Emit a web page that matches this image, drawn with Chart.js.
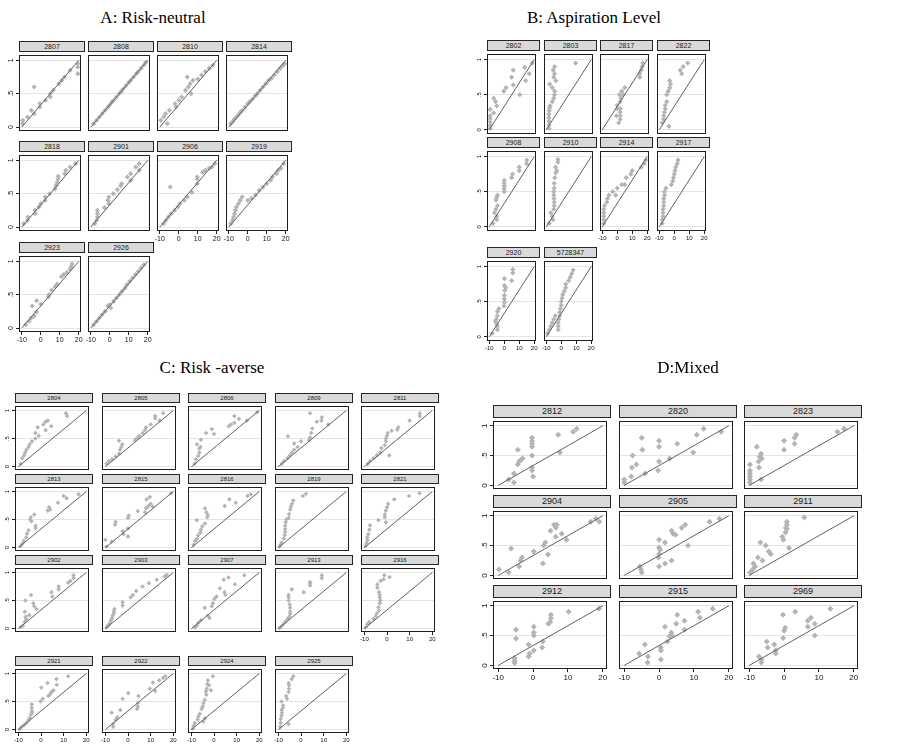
<!DOCTYPE html>
<html>
<head>
<meta charset="utf-8">
<script src="https://cdn.jsdelivr.net/npm/chart.js@4.4.1/dist/chart.umd.min.js"></script>
<style>
  body { margin: 0; background: #fff; }
  #page { position: relative; width: 907px; height: 747px; overflow: hidden; background: #fff; }
  .title { position: absolute; font-family: "Liberation Serif", "Times New Roman", serif; font-size: 17px; line-height: 17px; white-space: nowrap; transform: translateX(-50%); color: #000; }
  .strip { position: absolute; box-sizing: border-box; background: #d9d9d9; border: 1px solid #262626; text-align: center; color: #1a1a1a; font-family: "Liberation Sans", Arial, sans-serif; }
  canvas { position: absolute; }
</style>
</head>
<body>
<div id="page"></div>
<script>
// axis ticks shared by every panel
const xTicks = [-10, 0, 10, 20];
const yTicks = [0, 0.5, 1];
const yLabels = ['0', '.5', '1'];
// 45-degree reference line end points
const diagX = [-10, 20];
const diagY = [0, 1];

// panel ids per group
const idsA = ['2807', '2808', '2810', '2814', '2818', '2901', '2906', '2919', '2923', '2926'];
const idsB = ['2802', '2803', '2817', '2822', '2908', '2910', '2914', '2917', '2920', '5728347'];
const idsC = ['2804', '2805', '2806', '2809', '2811', '2813', '2815', '2816', '2819', '2821',
              '2902', '2903', '2907', '2913', '2916', '2921', '2922', '2924', '2925'];
const idsD = ['2812', '2820', '2823', '2904', '2905', '2911', '2912', '2915', '2969'];

// A: Risk-neutral
const p2807 = [[-9.5,.1],[-9.5,.05],[-7,.15],[-5,.25],[-3.5,.6],[-3.5,.2],[-0.5,.3],[-0.5,.35],[2.5,.4],[5,.45],[5,.5],[6.5,.55],[9.5,.65],[11,.7],[12.5,.75],[15.5,.85],[19.5,.95],[19.5,.9],[19.5,.8]];
const p2808 = [[-8.5,.05],[-7,.1],[-5.5,.15],[-4,.2],[-2.5,.25],[-1,.3],[0,.33],[1,.37],[2,.4],[3.5,.45],[5,.5],[6,.53],[7,.57],[8.5,.62],[10,.67],[11,.7],[12.5,.75],[14,.8],[15,.83],[16.5,.88],[18,.93],[19,.97]];
const p2810 = [[-9.5,.1],[-8,.15],[-6,.05],[-7,.2],[-5,.25],[-2,.35],[-1.5,.3],[0,.4],[1.5,.45],[4.5,.75],[3.5,.55],[5,.6],[6.5,.5],[6,.65],[7.5,.7],[10,.72],[12,.78],[14,.83],[16,.88],[18,.93]];
const p2814 = [[-9,.05],[-8,.08],[-7,.12],[-6,.15],[-5,.18],[-4,.22],[-3,.25],[-1.5,.3],[0,.35],[1,.38],[2.5,.42],[4,.47],[5,.5],[6.5,.55],[8,.6],[9.5,.65],[11,.7],[12.5,.73],[14,.78],[15.5,.83],[17,.88],[18.5,.92],[19.5,.95]];
const p2818 = [[-9,.05],[-7,.1],[-6.8,.15],[-3,.2],[-3,.25],[-1,.3],[0,.35],[2.3,.4],[2.3,.45],[4.6,.5],[7.5,.57],[8,.62],[8.6,.67],[9.2,.72],[9.2,.76],[12.6,.8],[13.2,.85],[15.4,.9],[18.3,.95]];
const p2901 = [[-8,.05],[-7,.1],[-6.5,.15],[-6.5,.2],[-6.5,.25],[-2.8,.29],[-0.5,.35],[-1,.4],[-0.5,.45],[1.8,.5],[4,.56],[5.7,.62],[6.3,.65],[9.2,.75],[11,.8],[11,.7],[13.7,.9],[15.5,.95],[15.5,.85]];
const p2906 = [[-8,.05],[-6.8,.1],[-5.5,.15],[-4.5,.6],[-4,.2],[-2.2,.25],[-0.5,.3],[0.6,.35],[2.9,.4],[4.5,.45],[6.9,.52],[9.7,.65],[9.7,.72],[9.7,.75],[12.6,.82],[14,.85],[16,.88],[17.5,.9],[19,.95]];
const p2919 = [[-9,.05],[-8,.1],[-7.5,.15],[-7,.2],[-6.5,.25],[-6,.3],[-5,.35],[-4,.4],[-3,.45],[0,.4],[2,.43],[4,.48],[6,.55],[8,.6],[10,.65],[12,.7],[13,.75],[15,.8],[16,.85],[17.5,.88],[19,.95]];
const p2923 = [[-8,.05],[-6.2,.1],[-5,.15],[-4.5,.33],[-3.4,.18],[-2.2,.41],[-2.2,.24],[0,.36],[4,.47],[4.3,.5],[5.7,.57],[7.5,.62],[8.6,.66],[10.9,.77],[12,.8],[13.7,.83],[15.4,.88],[16,.92],[16.5,.96]];
const p2926 = [[-8.5,.05],[-7,.1],[-5.5,.15],[-4,.2],[-2.5,.25],[-1,.33],[0,.35],[0.5,.3],[2,.4],[3.5,.45],[5,.5],[6.5,.55],[8,.6],[9,.65],[10.5,.7],[12,.75],[13.5,.8],[15,.85],[16.5,.9],[18,.95]];

// B: Aspiration Level
const p2802 = [[-9.4,.29],[-9.4,.2],[-9.4,.16],[-9.4,.11],[-9.4,.06],[-9.4,.02],[-7,.24],[-7,.45],[-5.8,.4],[-5,.34],[-0.3,.55],[1.2,.6],[4.9,.75],[6,.85],[6,.64],[10.4,.5],[13.7,.89],[14.3,.7],[16.7,.8],[18.7,.95]];
const p2803 = [[-8.2,.02],[-8.2,.07],[-8.2,.12],[-8.2,.17],[-8.2,.22],[-8,.27],[-7.8,.31],[-7.5,.34],[-6,.4],[-5,.45],[-4.5,.5],[-4.4,.55],[-7.7,.65],[-6,.6],[-3.6,.7],[-5,.75],[-4.5,.8],[-5.3,.85],[-4.4,.9],[9.6,.95]];
const p2817 = [[-0.5,.2],[0,.3],[0,.35],[1,.1],[2,.15],[2,.2],[2,.25],[2,.3],[2,.4],[2.5,.45],[1.5,.5],[3,.55],[4,.5],[5,.6],[15,.8],[15,.75],[16,.85],[16.5,.9],[17,.95]];
const p2822 = [[-8,.1],[-7,.15],[-7,.2],[-6.5,.25],[-6,.3],[-6,.35],[-5,.4],[-3.5,.05],[-5,.5],[-4,.55],[-3,.6],[-2.5,.65],[-3,.7],[4,.85],[6,.9],[5,.8],[9,.95]];
const p2908 = [[-7.5,.05],[-6.5,.2],[-5.5,.25],[-5.5,.38],[-5,.42],[-4.5,.45],[-4.5,.3],[-5,.15],[-5,.1],[0,.5],[0,.54],[0,.58],[0,.62],[0,.66],[5,.7],[5.5,.75],[10,.8],[10,.85],[15,.9],[15,.95]];
const p2910 = [[-8,.05],[-7,.2],[-6,.15],[-5.5,.1],[-5,.25],[-4.7,.3],[-4.7,.35],[-4.8,.4],[-5,.45],[-5,.5],[-4.7,.55],[-4.7,.62],[-4.3,.7],[-3.6,.77],[-3,.8],[-3.8,.85],[-2.2,.92],[-2.2,.96]];
const p2914 = [[-9,.05],[-9,.1],[-9,.15],[-9,.2],[-9,.25],[-8.5,.3],[-7,.35],[-6.5,.4],[-5.5,.45],[-3,.5],[-1,.45],[0,.55],[3,.6],[5,.6],[6,.7],[9,.75],[10,.8],[16,.85],[18,.9],[19,.95]];
const p2917 = [[-8,.05],[-8,.1],[-7.5,.15],[-7.5,.2],[-7.5,.25],[-7,.3],[-7,.35],[-7,.4],[-6.5,.45],[-6.5,.5],[-5.5,.55],[-2,.6],[-1,.65],[-0.5,.7],[0,.75],[0.5,.8],[1,.85],[2,.9],[2.5,.95]];
const p2920 = [[-8,.05],[-5.3,.25],[-5.8,.22],[-4.7,.3],[-4.5,.36],[-3.6,.4],[-4.5,.15],[-4.5,.1],[-5,.18],[0.1,.49],[-0.2,.44],[0.1,.54],[0.1,.59],[0.4,.66],[0.1,.73],[0.1,.83],[1,.7],[4.9,.8],[5.7,.91],[5.7,.96]];
const p5728347 = [[-9,.05],[-8,.1],[-7,.15],[-6,.2],[-5,.25],[-4,.3],[-2,.1],[-2,.15],[-2,.2],[-1.5,.25],[-1,.3],[-1,.35],[-0.5,.4],[0,.45],[0,.5],[0.5,.55],[1,.6],[2,.65],[3,.7],[3,.75],[5,.8],[6,.85],[7,.9],[8,.95]];

// C: Risk-averse
const p2804 = [[-9,.05],[-8.3,.15],[-7.5,.2],[-7,.25],[-6.5,.3],[-5.5,.35],[-5,.4],[-4,.45],[-2.5,.5],[-1,.55],[-2.5,.6],[-1.5,.7],[1,.75],[2,.8],[3,.82],[2,.65],[4.5,.72],[11,.95],[11.5,.9]];
const p2805 = [[-9.5,.05],[-8.5,.1],[-7,.13],[-5.5,.18],[-4,.23],[-3.5,.3],[-3,.35],[-2.5,.4],[-4,.46],[3,.47],[4,.51],[5,.55],[6.5,.6],[7.5,.65],[8,.7],[10,.75],[12,.86],[12,.9],[14,.82],[15.5,.95]];
const p2806 = [[-8.5,.05],[-8,.13],[-7,.19],[-6.5,.25],[-6.5,.32],[-6,.35],[-7.5,.4],[-5.8,.48],[-3.5,.6],[0,.58],[-1,.67],[6.5,.72],[7.5,.75],[9,.78],[9,.9],[11,.85],[14.5,.82],[19,.97]];
const p2809 = [[-8.5,.05],[-7.5,.1],[-6,.15],[-5,.2],[-4,.25],[-3,.3],[-1.5,.35],[-3,.41],[-5.8,.54],[0,.45],[3.5,.47],[4,.52],[4.5,.6],[5,.68],[4,.95],[7,.8],[9,.82],[9.2,.88],[12,.75]];
const p2811 = [[-8.5,.05],[-7.5,.1],[-6,.15],[-4.5,.2],[-3,.25],[-2.5,.33],[-1,.38],[-0.5,.45],[-0.5,.5],[0,.55],[0.3,.6],[2,.64],[4.5,.66],[5,.7],[10,.82],[14.5,.9],[14.5,.95],[1,.2]];
const p2813 = [[-9,.03],[-8.3,.07],[-7.6,.12],[-6.6,.18],[-6.2,.25],[-5.5,.31],[-4.8,.5],[-4.5,.54],[-4.2,.47],[-3,.59],[-2.4,.39],[-2.4,.35],[3,.66],[3.6,.72],[4,.68],[7.5,.8],[10,.92],[11.3,.88],[16.6,.95]];
const p2815 = [[-9.5,.02],[-10,.14],[-7.2,.11],[-5.5,.46],[-5.7,.41],[-2.4,.29],[-2,.24],[0,.34],[0,.2],[0,.53],[0.3,.57],[4.3,.65],[7.5,.63],[8,.7],[8.2,.86],[9.6,.9],[9,.74],[10,.78],[11,.73],[19,.97]];
const p2816 = [[-9,.05],[-8.3,.12],[-7.5,.16],[-7,.22],[-6,.27],[-5.8,.32],[-5.2,.38],[-4,.43],[-7.6,.49],[-3,.54],[-2.8,.58],[-3.4,.63],[-4,.7],[4.7,.74],[6.8,.86],[9.6,.8],[14.8,.92],[16.2,.95]];
const p2819 = [[-9.5,.02],[-9,.05],[-8.6,.09],[-7.6,.16],[-7.2,.22],[-7,.28],[-7,.33],[-7,.39],[-6.8,.45],[-6.5,.5],[-5.5,.53],[-5.3,.6],[-4.8,.68],[-4.5,.73],[-4,.78],[-3.4,.84],[0.8,.92],[2.2,.96]];
const p2821 = [[-9.5,.03],[-9,.08],[-8.7,.13],[-8.7,.18],[-8.3,.24],[-7.8,.32],[-7.5,.4],[-3.8,.49],[-0.5,.45],[-1,.54],[-1,.59],[-0.5,.66],[0,.72],[0.5,.78],[3.2,.86],[9.7,.92],[14.4,.97]];
const p2902 = [[-9,.03],[-8,.05],[-7.2,.12],[-6.6,.17],[-6.8,.21],[-7.2,.3],[-6.9,.5],[-5.2,.24],[-4.4,.6],[-3.4,.45],[-3,.4],[-2,.35],[4.6,.65],[5,.57],[7.8,.75],[7.8,.7],[12,.82],[13,.85],[14.4,.95],[14.4,.9]];
const p2903 = [[-9.5,.02],[-9,.05],[-8.5,.07],[-8,.1],[-7.5,.15],[-7,.19],[-6.8,.23],[-6.3,.27],[-6.2,.31],[-6,.35],[-2.4,.41],[-2.4,.47],[1.2,.56],[2.2,.6],[3.6,.67],[6.4,.75],[9.2,.81],[12.7,.87],[16.2,.93],[17.2,.96]];
const p2907 = [[-8.5,.02],[-7.6,.05],[-7,.1],[-5.8,.15],[-4.1,.37],[-2.7,.23],[-2,.19],[-1,.4],[-0.5,.45],[0.1,.53],[1.1,.57],[2.6,.72],[4.6,.65],[5,.6],[4.3,.87],[6.4,.91],[9.2,.79],[13.4,.95]];
const p2913 = [[-9.5,.01],[-9,.03],[-8,.07],[-7,.12],[-6,.17],[-5.2,.21],[-4.8,.26],[-4.8,.3],[-4.8,.37],[-5,.43],[-5.5,.5],[-5.5,.56],[-5.5,.6],[-4.1,.7],[1.2,.65],[4,.83],[4,.77],[4,.8],[9.2,.95],[9.2,.9]];
const p2916 = [[-9.5,.02],[-8.7,.08],[-7.8,.12],[-6,.17],[-5,.22],[-4.5,.27],[-3.6,.32],[-3.8,.38],[-3.2,.45],[-3,.5],[-3.2,.55],[-3.2,.6],[-3.5,.65],[-4.2,.73],[-4.3,.79],[-2.8,.85],[-1.5,.88],[-1.2,.95],[1.1,.92]];
const p2921 = [[-9.4,.01],[-8.5,.05],[-7.5,.08],[-6.5,.12],[-5.5,.17],[-5,.21],[-4.4,.27],[-4,.3],[-4,.33],[-4.1,.39],[-4.1,.45],[-0.2,.5],[0.8,.55],[0.1,.75],[2.9,.83],[3.2,.6],[4,.63],[4.6,.67],[5.5,.7],[6.8,.9],[7,.8],[12,.95]];
const p2922 = [[-6.6,.05],[-6.6,.1],[-7.2,.3],[-5.5,.17],[-4.8,.22],[-3.4,.35],[-2.4,.55],[0.1,.65],[4,.37],[4.3,.41],[4.3,.47],[4.6,.6],[9.6,.73],[11,.84],[12,.69],[13.8,.88],[15.5,.92],[16.5,.95]];
const p2924 = [[-9.4,.02],[-9,.07],[-8.5,.12],[-7.2,.18],[-7,.23],[-6.3,.28],[-4.8,.14],[-4,.2],[-5.5,.37],[-5,.41],[-4.7,.47],[-4.1,.53],[-3.4,.62],[-3.6,.68],[-3.2,.73],[-2.7,.88],[-3,.81],[-2.2,.79],[-1.4,.7],[-0.5,.95]];
const p2925 = [[-9.2,.05],[-9,.12],[-9,.19],[-8.6,.25],[-8.4,.3],[-8.6,.35],[-8,.39],[-7.9,.43],[-8.6,.5],[-6.2,.55],[-6.6,.6],[-5.5,.67],[-5.3,.73],[-5.3,.79],[-5.5,.83],[-4.1,.9],[-3.4,.95],[-5.5,.1]];

// D: Mixed
const p2812 = [[-7,.1],[-5.5,.05],[-5.5,.2],[-4.4,.6],[-4.4,.35],[-4,.4],[-3.6,.42],[-3,.45],[0,.15],[-0.3,.25],[-0.3,.3],[-0.3,.5],[-0.3,.65],[-0.3,.7],[-0.3,.75],[-0.3,.8],[7.2,.85],[7.7,.55],[11.5,.9],[12.5,.95]];
const p2820 = [[-10,.1],[-10,.05],[-8,.15],[-7.8,.3],[-7.6,.5],[-6.5,.35],[-5,.8],[-4.8,.6],[-4,.2],[0,.65],[0,.75],[0,.4],[-0.3,.25],[3,.45],[5.2,.7],[9.8,.55],[10.8,.85],[12.8,.95],[17.8,.9]];
const p2823 = [[-9.8,.05],[-9.8,.1],[-9.8,.15],[-9.8,.2],[-9.8,.25],[-9.8,.35],[-7.8,.65],[-7.2,.3],[-7.3,.4],[-7,.48],[-6.6,.53],[-6.4,.45],[-6.6,.1],[0,.75],[0,.6],[3,.7],[3,.8],[3.5,.85],[15.3,.9],[17.2,.95]];
const p2904 = [[-9.8,.1],[-7,.05],[-6.3,.45],[-4,.15],[-3.6,.25],[-3.2,.3],[0.2,.4],[2.8,.2],[3,.5],[3.5,.55],[4.3,.35],[5,.75],[6.5,.8],[8.2,.7],[6.5,.65],[9.6,.6],[6,.85],[6.8,.85],[16.5,.9],[18,.95],[19,.9]];
const p2905 = [[-5.5,.15],[-5.2,.1],[-5,.05],[0,.6],[0,.47],[0.3,.43],[0,.36],[-0.2,.3],[0,.15],[1.7,.55],[1.7,.2],[3.6,.25],[3.6,.75],[4,.7],[4.7,.68],[6.5,.8],[7.5,.85],[8.3,.5],[14.5,.9],[17.3,.95]];
const p2911 = [[-9.8,.05],[-9,.1],[-8.8,.2],[-8.3,.15],[-7.5,.3],[-6.8,.55],[-6.2,.25],[-5.3,.5],[-4.4,.4],[-3.8,.36],[-0.5,.65],[-0.2,.6],[0.4,.72],[0.8,.78],[1.4,.46],[0.5,.8],[0.8,.85],[0.8,.9],[5.8,.97]];
const p2912 = [[-5.3,.12],[-5.3,.08],[-5.3,.04],[-4.9,.6],[-4.9,.45],[-1.3,.35],[-1.3,.15],[-1,.2],[0.2,.65],[0.2,.55],[0.2,.5],[0.2,.25],[2.6,.3],[2.8,.4],[4.4,.7],[4.9,.73],[5.1,.79],[5.1,.85],[10.2,.9],[18.9,.95]];
const p2915 = [[-5.7,.2],[-4.1,.35],[-3.2,.15],[-3.3,.05],[0.5,.3],[0.5,.25],[0.5,.1],[1.7,.65],[2.4,.4],[3,.49],[3.5,.55],[3.7,.5],[5.2,.85],[4.9,.7],[7.3,.75],[7.3,.6],[11.2,.9],[11.7,.8],[15.4,.95]];
const p2969 = [[-7.2,.15],[-6.5,.05],[-6.5,.1],[-5,.4],[-4.7,.3],[-2.8,.35],[-2.4,.25],[-2.4,.2],[-0.3,.85],[0,.58],[0.3,.63],[-0.3,.46],[3.2,.9],[6.8,.75],[7.7,.8],[6.8,.65],[8.8,.7],[8.8,.5],[13.3,.95]];

const panelPoints = {
  '2807': p2807, '2808': p2808, '2810': p2810, '2814': p2814, '2818': p2818, '2901': p2901,
  '2906': p2906, '2919': p2919, '2923': p2923, '2926': p2926,
  '2802': p2802, '2803': p2803, '2817': p2817, '2822': p2822, '2908': p2908, '2910': p2910,
  '2914': p2914, '2917': p2917, '2920': p2920, '5728347': p5728347,
  '2804': p2804, '2805': p2805, '2806': p2806, '2809': p2809, '2811': p2811, '2813': p2813,
  '2815': p2815, '2816': p2816, '2819': p2819, '2821': p2821, '2902': p2902, '2903': p2903,
  '2907': p2907, '2913': p2913, '2916': p2916, '2921': p2921, '2922': p2922, '2924': p2924, '2925': p2925,
  '2812': p2812, '2820': p2820, '2823': p2823, '2904': p2904, '2905': p2905, '2911': p2911,
  '2912': p2912, '2915': p2915, '2969': p2969
};

// where each group of panels sits on the page
const groups = [
  { title: 'A: Risk-neutral', tx: 153, ty: 9, ids: idsA, cols: 4, left: 19, pitch: 69, w: 66,
    rows: [41, 141, 242], strip: 10, plotH: 80, font: 7, tick: 7, r: 2.6 },
  { title: 'B: Aspiration Level', tx: 594, ty: 9, ids: idsB, cols: 4, left: 487, pitch: 56.5, w: 53,
    rows: [40, 137, 247], strip: 10, plotH: 84, font: 7, tick: 6, r: 2.6 },
  { title: 'C: Risk -averse', tx: 212, ty: 359, ids: idsC, cols: 5, left: 15, pitch: 86.5, w: 78,
    rows: [393, 474, 555, 656], strip: 9, plotH: 68, font: 6, tick: 6, r: 2.3 },
  { title: 'D:Mixed', tx: 688, ty: 359, ids: idsD, cols: 3, left: 493, pitch: 125.7, w: 118,
    rows: [405, 495, 585], strip: 12, plotH: 72, font: 9, tick: 8, r: 3 }
];

const page = document.getElementById('page');

const frame = {
  id: 'frame',
  afterDraw(chart) {
    const { ctx, chartArea: a } = chart;
    ctx.save();
    ctx.strokeStyle = '#1e1e1e';
    ctx.lineWidth = 1;
    ctx.strokeRect(Math.round(a.left) + 0.5, Math.round(a.top) + 0.5,
      Math.round(a.right - a.left) - 1, Math.round(a.bottom - a.top) - 1);
    ctx.restore();
  }
};

function makePanel(g, id, row, col, hasX, hasY) {
  const plotL = Math.round(g.left + col * g.pitch);
  const stripT = g.rows[row];
  const plotT = stripT + g.strip;

  const strip = document.createElement('div');
  strip.className = 'strip';
  Object.assign(strip.style, {
    left: plotL + 'px', top: stripT + 'px', width: g.w + 'px', height: (g.strip + 1) + 'px',
    fontSize: g.font + 'px', lineHeight: (g.strip - 1) + 'px'
  });
  strip.textContent = id;
  page.appendChild(strip);

  const padL = 16, padB = 16;
  const canvas = document.createElement('canvas');
  canvas.width = g.w + padL;
  canvas.height = g.plotH + padB;
  canvas.style.left = (plotL - padL) + 'px';
  canvas.style.top = plotT + 'px';
  page.appendChild(canvas);

  const tickFont = { family: '"Liberation Sans", Arial, sans-serif', size: g.tick };
  const pts = panelPoints[id];

  new Chart(canvas, {
    data: {
      datasets: [
        { type: 'line', data: diagX.map((x, k) => ({ x, y: diagY[k] })), borderColor: '#606060',
          borderWidth: 1, pointRadius: 0, order: 0 },
        { type: 'scatter', data: pts.map(p => ({ x: p[0], y: p[1] })), pointStyle: 'rectRot',
          pointRadius: g.r, backgroundColor: '#b4b4b4', borderWidth: 0, order: 1 }
      ]
    },
    options: {
      responsive: false, animation: false, devicePixelRatio: 1, events: [],
      layout: { padding: 0 },
      plugins: { legend: { display: false }, tooltip: { enabled: false } },
      scales: {
        x: {
          type: 'linear', min: -11.5, max: 21.2,
          afterBuildTicks: s => { s.ticks = xTicks.map(v => ({ value: v })); },
          afterFit: s => { s.height = padB; s.paddingLeft = 0; s.paddingRight = 0; },
          grid: { display: hasX, drawOnChartArea: false, tickLength: 3, tickColor: '#222' },
          border: { display: false },
          ticks: { display: hasX, font: tickFont, color: '#111', padding: 1, autoSkip: false,
                   minRotation: 0, maxRotation: 0, callback: v => String(v) }
        },
        y: {
          type: 'linear', min: -0.06, max: 1.08,
          afterBuildTicks: s => { s.ticks = yTicks.map(v => ({ value: v })); },
          afterFit: s => { s.width = padL; s.paddingTop = 0; s.paddingBottom = 0; },
          grid: { color: '#e4e4e4', drawTicks: hasY, tickLength: 3, tickColor: '#222' },
          border: { display: false },
          ticks: { display: hasY, font: tickFont, color: '#111', padding: 2, autoSkip: false,
                   minRotation: 90, maxRotation: 90, crossAlign: 'center',
                   callback: v => yLabels[yTicks.indexOf(v)] }
        }
      }
    },
    plugins: [frame]
  });
}

groups.forEach(g => {
  const t = document.createElement('div');
  t.className = 'title';
  t.style.left = g.tx + 'px';
  t.style.top = g.ty + 'px';
  t.textContent = g.title;
  page.appendChild(t);

  g.ids.forEach((id, i) => {
    const row = Math.floor(i / g.cols), col = i % g.cols;
    const hasX = i + g.cols >= g.ids.length;
    makePanel(g, id, row, col, hasX, col === 0);
  });
});
</script>
</body>
</html>
